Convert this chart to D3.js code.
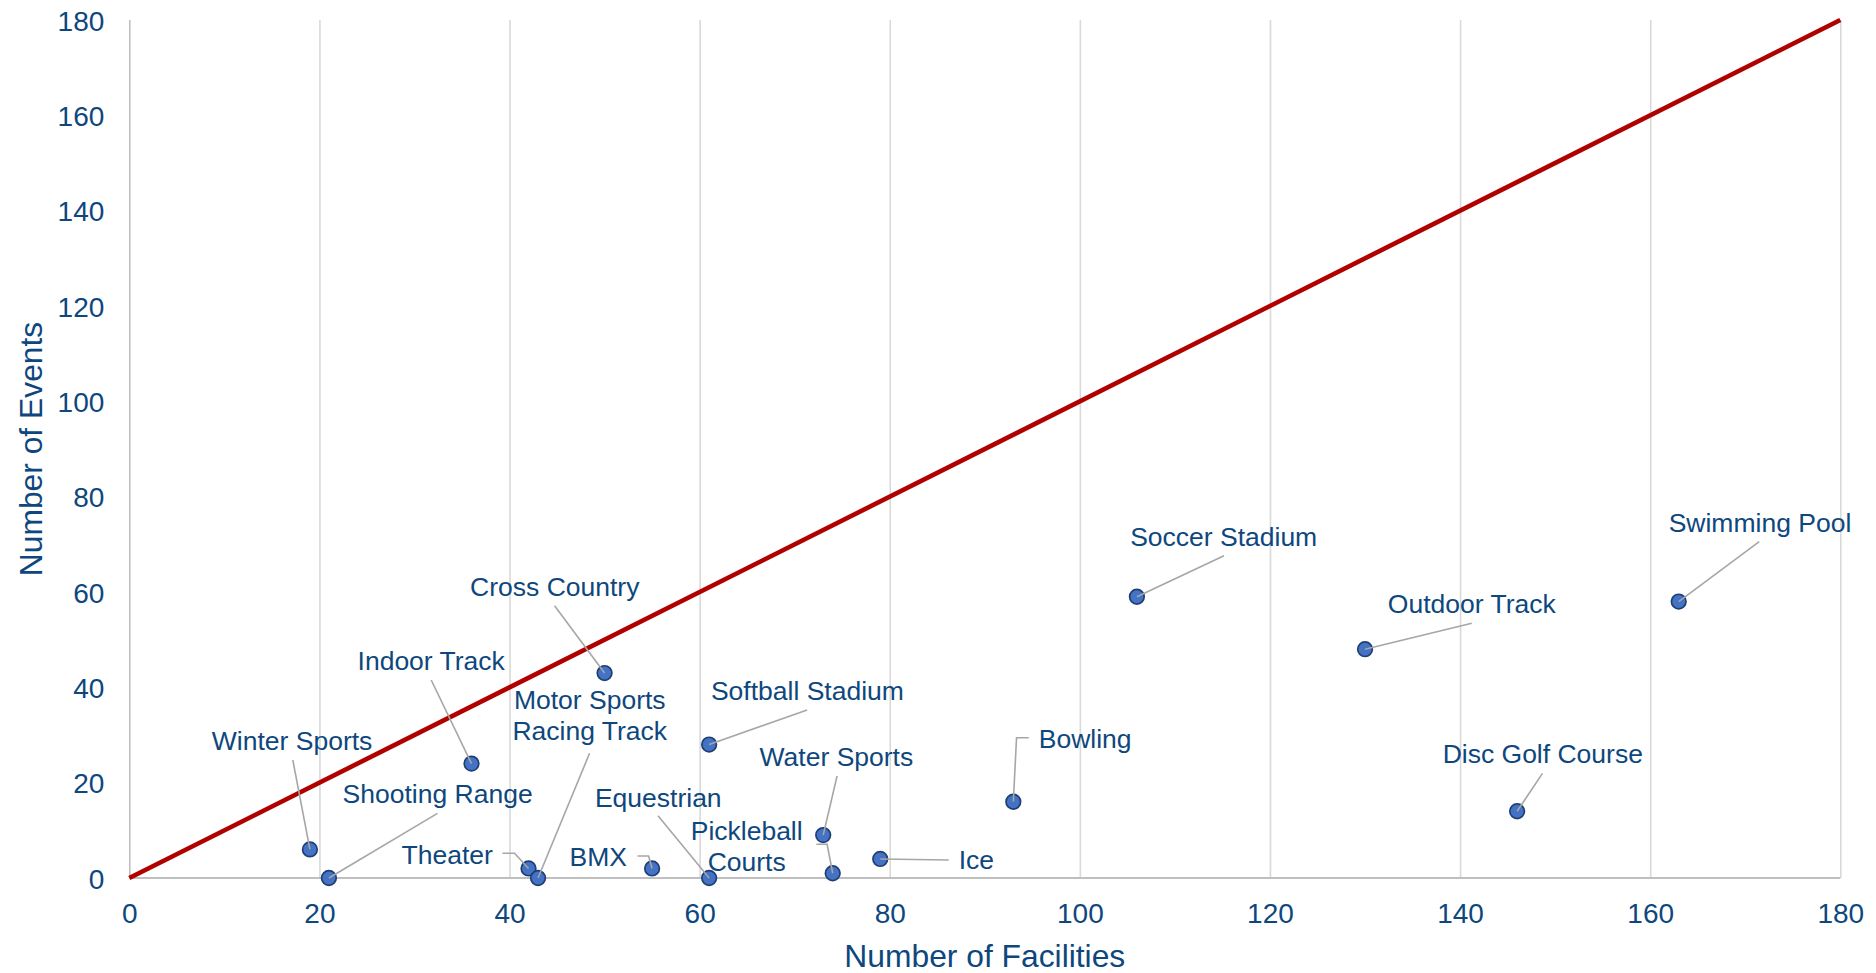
<!DOCTYPE html>
<html><head><meta charset="utf-8">
<script src="https://cdn.jsdelivr.net/npm/d3@7"></script>
<style>
html,body{margin:0;padding:0;background:#fff;}
svg{display:block;font-family:"Liberation Sans",Arial,sans-serif;}
</style></head>
<body>
<svg id="chart" width="1876" height="973"></svg>
<script>
// ---- data ----
const facilityNames = ["Winter Sports","Shooting Range","Indoor Track","Theater","Motor Sports\nRacing Track","Cross Country","BMX","Equestrian","Softball Stadium","Water Sports","Pickleball\nCourts","Ice","Bowling","Soccer Stadium","Outdoor Track","Disc Golf Course","Swimming Pool"];
const numFacilities = [19,21,36,42,43,50,55,61,61,73,74,79,93,106,130,146,163];
const numEvents     = [6,0,24,2,0,43,2,0,28,9,1,4,16,59,48,14,58];
const xTicks = [0,20,40,60,80,100,120,140,160,180];
const yTicks = [0,20,40,60,80,100,120,140,160,180];
const parityLine = [[0,0],[180,180]];

// label placement in data units: text anchor point (tx,ty baseline), leader start (lx,ly), optional elbow (ex,ey)
const labelLayout = [
  {a:"middle", tx:17.13, ty:26.85, lx:17.2,  ly:24.75},
  {a:"middle", tx:32.44, ty:15.67, lx:32.42, ly:13.57},
  {a:"middle", tx:31.76, ty:43.63, lx:31.76, ly:41.54},
  {a:"end",    tx:38.25, ty:2.94,  lx:39.26, ly:5.18, ex:40.53, ey:5.18},
  {a:"middle", tx:48.44, ty:35.45, lx:48.42, ly:26.16},
  {a:"middle", tx:44.76, ty:59.16, lx:44.74, ly:57.12},
  {a:"end",    tx:52.36, ty:2.52,  lx:53.47, ly:4.62, ex:54.63, ey:4.62},
  {a:"middle", tx:55.65, ty:14.96, lx:55.62, ly:13.07},
  {a:"middle", tx:71.34, ty:37.34, lx:71.31, ly:35.24},
  {a:"middle", tx:74.39, ty:23.5,  lx:74.46, ly:21.4},
  {a:"middle", tx:64.95, ty:7.97,  lx:72.28, ly:7.07, ex:73.41, ey:7.07},
  {a:"start",  tx:87.26, ty:1.83,  lx:86.21, ly:3.78},
  {a:"start",  tx:95.68, ty:27.21, lx:94.63, ly:29.43, ex:93.34, ey:29.43},
  {a:"middle", tx:115.13,ty:69.65, lx:115.16,ly:67.61},
  {a:"middle", tx:141.23,ty:55.53, lx:141.23,ly:53.43},
  {a:"middle", tx:148.7, ty:24.19, lx:148.67,ly:21.96},
  {a:"middle", tx:171.55,ty:72.52, lx:171.47,ly:70.55}
];

// ---- chart ----
const TEXT = "#0E477D";
const pLeft = 129.3, pRight = 1840.3, pTop = 20, pBottom = 878;
const svg = d3.select("#chart");
const x = d3.scaleLinear().domain([0,180]).range([pLeft,pRight]);
const y = d3.scaleLinear().domain([0,180]).range([pBottom,pTop]);

// vertical gridlines
const xAxis = d3.axisBottom(x).tickValues(xTicks).tickSize(-(pBottom-pTop)).tickPadding(0).tickFormat(d3.format("d"));
const gx = svg.append("g").attr("transform",`translate(0,${pBottom})`).call(xAxis);
gx.select(".domain").remove();
gx.selectAll(".tick line").attr("stroke", d => d===0 ? "#BFBFBF" : "#D9D9D9").attr("stroke-width",1.6);
gx.selectAll(".tick text").attr("fill",TEXT).attr("font-size",28).attr("y",0).attr("dy","44.5px");

// baseline axis
svg.append("line").attr("x1",pLeft).attr("x2",pRight).attr("y1",y(0)).attr("y2",y(0))
  .attr("stroke","#BFBFBF").attr("stroke-width",2);

// y axis labels
const yAxis = d3.axisLeft(y).tickValues(yTicks).tickSize(0).tickPadding(25).tickFormat(d3.format("d"));
const gy = svg.append("g").attr("transform",`translate(${pLeft},0)`).call(yAxis);
gy.select(".domain").remove();
gy.selectAll(".tick text").attr("fill",TEXT).attr("font-size",28).attr("dy","0.36em");

// parity line
svg.append("path").datum(parityLine)
  .attr("d", d3.line().x(d=>x(d[0])).y(d=>y(d[1])))
  .attr("stroke","#B00000").attr("stroke-width",4.6).attr("fill","none");

const pts = facilityNames.map((n,i)=>({name:n, fx:numFacilities[i], ev:numEvents[i], L:labelLayout[i]}));

// markers
svg.append("g").selectAll("circle").data(pts).join("circle")
  .attr("cx",d=>x(d.fx)).attr("cy",d=>y(d.ev)).attr("r",7.3)
  .attr("fill","#4472C4").attr("stroke","#1F3F73").attr("stroke-width",1.7);

// leader lines
svg.append("g").selectAll("path").data(pts).join("path")
  .attr("d", d => {
    const p = [[x(d.L.lx), y(d.L.ly)]];
    if (d.L.ex !== undefined) p.push([x(d.L.ex), y(d.L.ey)]);
    p.push([x(d.fx), y(d.ev)]);
    return d3.line()(p);
  })
  .attr("fill","none").attr("stroke","#A6A6A6").attr("stroke-width",1.6);

// labels
const lab = svg.append("g").selectAll("text").data(pts).join("text")
  .attr("x",d=>x(d.L.tx)).attr("y",d=>y(d.L.ty))
  .attr("text-anchor",d=>d.L.a).attr("fill",TEXT).attr("font-size",26.5);
lab.each(function(d){
  const lines = d.name.split("\n");
  const t = d3.select(this);
  lines.forEach((s,k)=>{
    t.append("tspan").attr("x",x(d.L.tx)).attr("dy", k===0?0:31).text(s);
  });
});

// axis titles
svg.append("text").attr("x",(pLeft+pRight)/2).attr("y",967).attr("text-anchor","middle")
  .attr("fill",TEXT).attr("font-size",31.8).text("Number of Facilities");
svg.append("text").attr("transform",`translate(41.7,${(pTop+pBottom)/2}) rotate(-90)`).attr("text-anchor","middle")
  .attr("fill",TEXT).attr("font-size",31.8).text("Number of Events");
</script>
</body></html>
